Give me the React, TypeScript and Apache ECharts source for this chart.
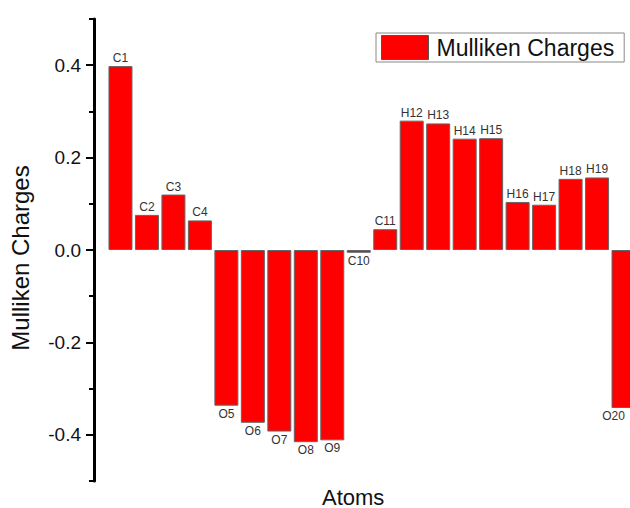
import React, { useEffect, useRef } from "react";
import * as echarts from "echarts";

const atoms = ["C1", "C2", "C3", "C4", "O5", "O6", "O7", "O8", "O9", "C10", "C11", "H12", "H13", "H14", "H15", "H16", "H17", "H18", "H19", "O20"];
const charges = [0.398, 0.076, 0.12, 0.064, -0.337, -0.374, -0.393, -0.416, -0.412, -0.006, 0.045, 0.28, 0.274, 0.241, 0.242, 0.104, 0.098, 0.154, 0.157, -0.342];
const majorTicks = [-0.4, -0.2, 0, 0.2, 0.4];
const minorTicks = [-0.5, -0.3, -0.1, 0.1, 0.3, 0.5];

const FONT = "'Liberation Sans', Arial, sans-serif";

export default function App() {
  const ref = useRef<HTMLDivElement>(null);
  useEffect(() => {
    if (!ref.current) return;
    const chart = echarts.init(ref.current, null, { renderer: "svg" });
    const last = charges.length - 1;
    const data = charges.map((v, i) => ({
      value: [i + 1, v],
      label: {
        position: v >= 0 ? "top" : "bottom",
        offset: i === last ? [-10, 0] : [0, 0],
      },
    }));
    chart.setOption({
      animation: false,
      backgroundColor: "#ffffff",
      textStyle: { fontFamily: FONT },
      grid: { left: 94, right: 0, top: 19, bottom: 27 },
      legend: {
        data: ["Mulliken Charges"],
        left: 376,
        top: 33,
        orient: "horizontal",
        padding: [2, 10, 2, 5],
        borderColor: "#888",
        borderWidth: 1,
        itemWidth: 47,
        itemHeight: 24,
        itemGap: 8,
        icon: "rect",
        textStyle: { fontSize: 23, lineHeight: 25, color: "#111", fontFamily: FONT, padding: [0, 0, 0, 3] },
        itemStyle: { borderColor: "#555", borderWidth: 1 },
      },
      xAxis: {
        type: "value",
        min: 0,
        max: 21,
        axisLine: { show: false },
        axisTick: { show: false },
        axisLabel: { show: false },
        splitLine: { show: false },
      },
      yAxis: [
        {
          type: "value",
          min: -0.5,
          max: 0.5,
          position: "left",
          name: "Mulliken Charges",
          nameLocation: "middle",
          nameGap: 62,
          nameTextStyle: { fontSize: 24, color: "#111", fontFamily: FONT, padding: [0, 0, 0, -16] },
          axisLine: { show: true, lineStyle: { color: "#000", width: 3 } },
          axisTick: {
            show: true,
            inside: false,
            length: 8,
            customValues: majorTicks,
            lineStyle: { color: "#000", width: 2 },
          },
          axisLabel: {
            show: true,
            customValues: majorTicks,
            fontSize: 19,
            color: "#111",
            margin: 13,
            fontFamily: FONT,
            formatter: (v: number) => v.toFixed(1),
          },
          splitLine: { show: false },
        },
        {
          type: "value",
          min: -0.5,
          max: 0.5,
          position: "left",
          axisLine: { show: false },
          axisTick: {
            show: true,
            inside: false,
            length: 5,
            customValues: minorTicks,
            lineStyle: { color: "#000", width: 2 },
          },
          axisLabel: { show: false },
          splitLine: { show: false },
        },
      ],
      graphic: [
        {
          type: "text",
          left: 322,
          top: 486,
          style: { text: "Atoms", fontSize: 22, fill: "#111", fontFamily: FONT },
        },
      ],
      series: [
        {
          name: "Mulliken Charges",
          type: "bar",
          data,
          barWidth: 24,
          itemStyle: { color: "#ff0000", borderColor: "#666", borderWidth: 1 },
          label: {
            show: true,
            fontSize: 12,
            color: "#333",
            distance: 2,
            fontFamily: FONT,
            formatter: (p: any) => atoms[p.dataIndex],
          },
        },
      ],
    });
    return () => chart.dispose();
  }, []);
  return (
    <div
      style={{ position: "fixed", left: 0, top: 0, width: 630, height: 508, overflow: "hidden" }}
    >
      <div ref={ref} style={{ width: 650, height: 508 }} />
    </div>
  );
}
